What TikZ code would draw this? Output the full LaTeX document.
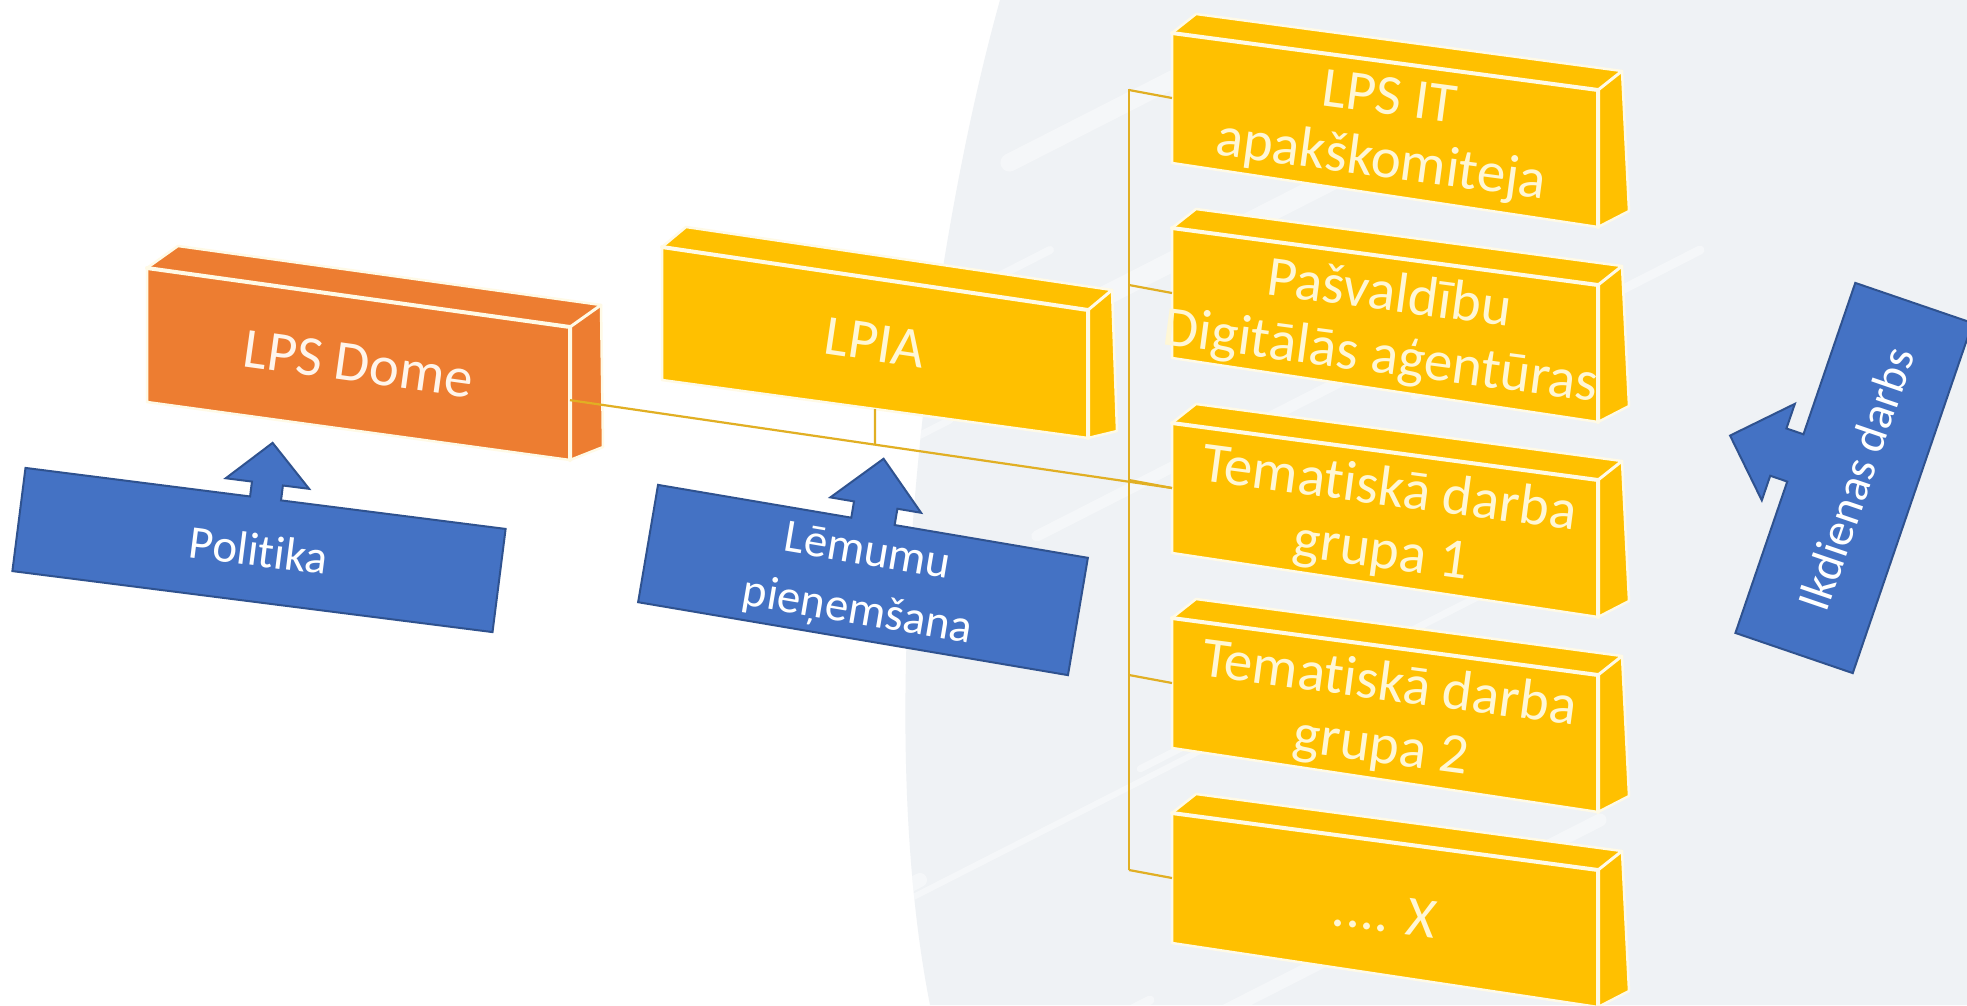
\documentclass[tikz,border=0pt]{standalone}
\usepackage{fontspec}
\setmainfont{Carlito}[Ligatures={NoCommon,NoContextual}]
\usetikzlibrary{calc}
\definecolor{domeorange}{RGB}{237,125,49}
\definecolor{gold}{RGB}{255,192,0}
\definecolor{calloutblue}{RGB}{68,114,196}
\definecolor{calloutedge}{RGB}{47,82,143}
\definecolor{linkgold}{RGB}{225,175,35}
\definecolor{bgpale}{RGB}{239,242,245}
\definecolor{boxtext}{RGB}{255,247,214}
\definecolor{edgecream}{RGB}{255,250,230}
% break the t-i ligature of the font
\newcommand{\tI}{t\kern0pt i}

\tikzset{
  slabface/.style={draw=edgecream, line width=2.5pt, line join=round},
  slabedge/.style={draw=edgecream, line width=4pt, line cap=round},
  link/.style={draw=linkgold, line width=2.2pt},
  callout/.style={fill=calloutblue, draw=calloutedge, line width=2pt, line join=miter},
  calltext/.style={text=white, font=\fontsize{47}{60}\selectfont, align=center, inner sep=0pt},
  boxlabel/.style={text=boxtext, font=\fontsize{57}{63}\selectfont, align=center, inner sep=0pt},
  streak/.style={draw=white, line width=#1, opacity=0.4, line cap=round},
}

% name, colour, front TL, TR, BR, BL, top offset, back-bottom offset
\newcommand{\slab}[8]{%
  \coordinate (#1-tl) at (#3);
  \coordinate (#1-tr) at (#4);
  \coordinate (#1-br) at (#5);
  \coordinate (#1-bl) at (#6);
  \coordinate (#1-btl) at ($(#1-tl)+(#7)$);
  \coordinate (#1-btr) at ($(#1-tr)+(#7)$);
  \coordinate (#1-bbr) at ($(#1-br)+(#8)$);
  \coordinate (#1-l) at ($(#1-tl)!0.5!(#1-bl)$);
  \coordinate (#1-b) at ($(#1-bl)!0.5!(#1-br)$);
  \coordinate (#1-r) at ($(#1-tr)!0.55!(#1-br)$);
  \coordinate (#1-c) at ($(#1-tl)!0.5!(#1-br)$);
  \path[slabface, fill=#2] (#1-tl) -- (#1-btl) -- (#1-btr) -- (#1-bbr) -- (#1-br) -- (#1-bl) -- cycle;
  \draw[slabedge] (#1-tl) -- (#1-tr) -- (#1-br);
  \draw[slabedge, line width=3pt] (#1-tr) -- (#1-btr);
}

\begin{document}
\begin{tikzpicture}[x=1pt, y=-1pt]
\useasboundingbox (0,0) rectangle (1967,1005);
\fill[white] (0,0) rectangle (1967,1005);

% pale background region with soft streaks
\fill[bgpale] (1000,0) .. controls (930,250) and (870,700) .. (930,1005) -- (1967,1005) -- (1967,0) -- cycle;
\begin{scope}
  \clip (1000,0) .. controls (930,250) and (870,700) .. (930,1005) -- (1967,1005) -- (1967,0) -- cycle;
  \foreach \sx/\sy/\len/\w in {900/300/480/12, 950/420/620/7, 1000/560/800/16, 900/700/560/9,
      1450/120/560/20, 1500/300/520/11, 920/880/650/14, 1150/1000/740/9, 1600/820/420/13,
      1550/560/460/7, 1250/40/270/18, 1700/250/320/9, 1300/700/500/6, 1050/250/400/8}{
    \draw[streak=\w pt] (\sx,\sy) -- ++(-27:-\len);
  }
\end{scope}

% 3D boxes
\slab{dome}{domeorange}{147,268}{570,327}{570,460}{147,402}{31,-22}{33,-13}
\node[boxlabel, text=white!92!orange, rotate=-7.9] (domelabel) at (dome-c) {LPS Dome};

\slab{lpia}{gold}{662,247}{1088,310}{1088,438}{662,380}{24,-20}{29,-7}
\node[boxlabel, rotate=-8.4] (lpialabel) at (lpia-c) {LPIA};

\slab{lpsit}{gold}{1172,33}{1598,90}{1598,227}{1172,163}{24,-19}{31,-16}
\node[boxlabel, rotate=-7.6] (lpsitlabel) at ($(lpsit-c)+(0,2)$) {LPS IT\\apakškomiteja};

\slab{pasv}{gold}{1172,228}{1598,285}{1598,422}{1172,358}{24,-19}{31,-16}
\node[boxlabel, rotate=-7.6] (pasvlabel) at ($(pasv-c)+(0,2)$) {Pašvaldību\\Digitālās aģentūras};

\slab{tem1}{gold}{1172,423}{1598,480}{1598,617}{1172,553}{24,-19}{31,-16}
\node[boxlabel, rotate=-7.6] (tem1label) at ($(tem1-c)+(0,2)$) {Tema\tI skā darba\\grupa 1};

\slab{tem2}{gold}{1172,618}{1598,675}{1598,812}{1172,748}{24,-19}{31,-16}
\node[boxlabel, rotate=-7.6] (tem2label) at ($(tem2-c)+(0,2)$) {Tema\tI skā darba\\grupa 2};

\slab{xbox}{gold}{1172,813}{1598,870}{1598,1007}{1172,943}{24,-19}{31,-16}
\node[boxlabel, rotate=-7.6] (xlabel) at ($(xbox-c)+(0,4)$) {.... X};

% connectors
\coordinate (lpia-d) at ($(lpia-b)+(0,120)$);
\coordinate (lpia-j) at (intersection of lpia-b--lpia-d and dome-r--tem1-l);
\draw[link] (dome-r) -- (tem1-l);
\draw[link] (lpia-b) -- (lpia-j);
\coordinate (brk-top) at (1129,89);
\coordinate (brk-bot) at (1129,870);
\draw[link] (brk-top) -- (brk-bot);
\foreach \nm in {lpsit,pasv,tem1,tem2,xbox}{
  \coordinate (\nm-tick) at ($(\nm-l)+(-43,-8)$);
  \draw[link] (\nm-tick) -- (\nm-l);
}

% callouts
\begin{scope}[shift={(259,550)}, rotate=-7.24]
  \draw[callout] (-242,52) -- (-242,-52) -- (-15.6,-52) -- (-15.6,-67) -- (-42,-67) -- (0,-108)
    -- (42,-67) -- (15.6,-67) -- (15.6,-52) -- (242,-52) -- (242,52) -- cycle;
  \node[calltext, rotate=-7.24] (politika) at (0,0) {Poli\tI ka};
\end{scope}

\begin{scope}[shift={(863,580)}, rotate=-9.63]
  \draw[callout] (-218,59.5) -- (-218,-59.5) -- (-22,-59.5) -- (-22,-76) -- (-46,-76) -- (0,-123)
    -- (46,-76) -- (22,-76) -- (22,-59.5) -- (218,-59.5) -- (218,59.5) -- cycle;
  \node[calltext, rotate=-9.63] (lemumu) at (0,4) {Lēmumu\\pieņemšana};
\end{scope}

\begin{scope}[shift={(1854,478)}, rotate=71.1]
  \draw[callout] (-185,62) -- (-185,-62) -- (-25,-62) -- (-25,-80) -- (-51,-80) -- (0,-131)
    -- (51,-80) -- (25,-80) -- (25,-62) -- (185,-62) -- (185,62) -- cycle;
  \node[calltext, rotate=71.1] (ikdienas) at (0,2) {Ikdienas darbs};
\end{scope}
\end{tikzpicture}
\end{document}
